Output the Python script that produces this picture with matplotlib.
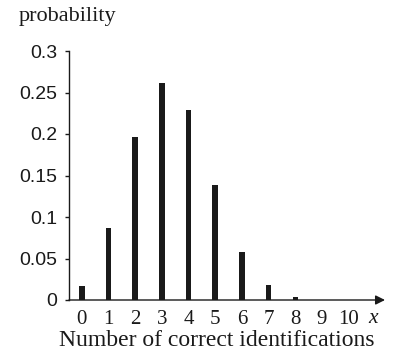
import matplotlib.pyplot as plt

counts = [0, 1, 2, 3, 4, 5, 6, 7, 8, 9, 10]
probs = [0.017, 0.087, 0.196, 0.261, 0.229, 0.138, 0.058, 0.018, 0.004, 0.0, 0.0]
yticks = [0, 0.05, 0.1, 0.15, 0.2, 0.25, 0.3]
ytick_labels = ['0', '0.05', '0.1', '0.15', '0.2', '0.25', '0.3']

W, H = 396, 358
fig = plt.figure(figsize=(W / 100, H / 100), dpi=100)
ax = fig.add_axes([69 / W, 1 - 300 / H, (385 - 69) / W, (300 - 51) / H])

ink = '#1a1a1a'
ax.bar(counts, probs, width=0.21, color=ink)

ax.set_xlim(-0.48, 11.36)
ax.set_ylim(0, 0.3)

ax.spines['top'].set_visible(False)
ax.spines['right'].set_visible(False)
ax.spines['bottom'].set_visible(False)
ax.spines['left'].set_color(ink)
ax.spines['left'].set_linewidth(1.0)

ax.annotate('', xy=(1.0, 0), xytext=(0, 0), xycoords='axes fraction',
            arrowprops=dict(arrowstyle='-|>', color=ink, lw=1.0,
                            mutation_scale=14, shrinkA=0, shrinkB=0))

ax.set_yticks(yticks)
ax.set_yticklabels(ytick_labels, family='Liberation Sans', fontsize=14, color=ink)
ax.tick_params(axis='y', direction='out', length=3, width=1.0, pad=5.5, colors=ink)

ax.set_xticks(counts)
ax.set_xticklabels([str(c) for c in counts], family='Liberation Serif', fontsize=15, color=ink)
ax.tick_params(axis='x', length=0, pad=7)

ax.text(10.92, -0.0225, 'x', family='Liberation Serif', style='italic',
        fontsize=15.5, color=ink, ha='center', va='center')

fig.text(217 / W, 1 - 341 / H, 'Number of correct identifications',
         family='Liberation Serif', fontsize=17, color=ink, ha='center', va='center')
fig.text(67 / W, 1 - 16 / H, 'probability',
         family='Liberation Serif', fontsize=16, color=ink, ha='center', va='center')

fig.savefig('out.png', dpi=100)
